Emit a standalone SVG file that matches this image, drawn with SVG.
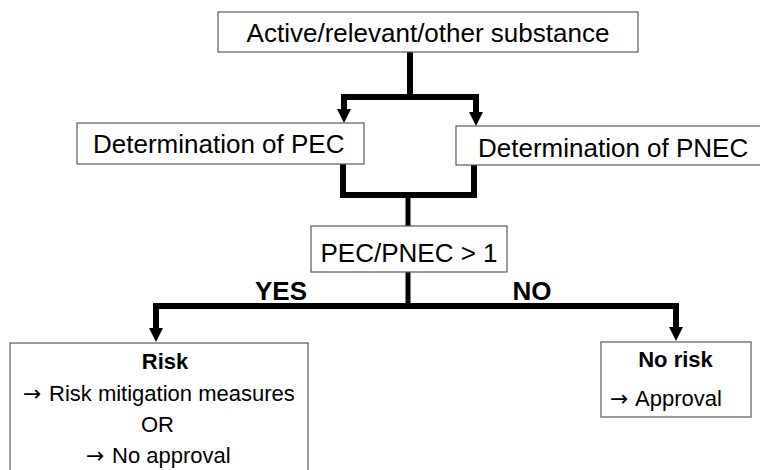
<svg xmlns="http://www.w3.org/2000/svg" width="760" height="470" viewBox="0 0 760 470">
  <style>
    .box { fill: #ffffff; stroke: #5a5a5a; stroke-width: 1.2; }
    .txt { font-family: "Liberation Sans", Arial, sans-serif; font-size: 26px; fill: #000000; }
    .small { font-family: "Liberation Sans", Arial, sans-serif; font-size: 22px; fill: #000000; }
    .bold { font-weight: bold; }
    .arr { font-family: "DejaVu Sans", sans-serif; font-size: 22px; }
    .wire { fill: none; stroke: #000000; stroke-width: 6; stroke-linejoin: miter; stroke-linecap: butt; }
    .thin { stroke-width: 5; }
  </style>

  <rect width="760" height="470" fill="#ffffff"/>

  <!-- connectors: thick black elbows with solid triangular heads -->
  <g id="connectors">
    <line class="wire" x1="410" y1="52" x2="410" y2="98"/>
    <polyline class="wire" points="344,110 344,97 476,97 476,112"/>
    <path d="M337,109 L351,109 L344,123 Z" fill="#000"/>
    <path d="M469,112 L483,112 L476,126 Z" fill="#000"/>

    <polyline class="wire" points="343,164 343,195 474,195 474,165"/>
    <line class="wire thin" x1="408" y1="195" x2="408" y2="227"/>

    <line class="wire thin" x1="408" y1="272" x2="408" y2="306"/>
    <polyline class="wire" points="156,329 156,306 676,306 676,328"/>
    <path d="M149,328 L163,328 L156,342 Z" fill="#000"/>
    <path d="M669,327 L683,327 L676,341 Z" fill="#000"/>

    <text class="txt bold" x="281" y="300" text-anchor="middle" font-size="25">YES</text>
    <text class="txt bold" x="532" y="300" text-anchor="middle" font-size="25">NO</text>
  </g>

  <g id="substance">
    <rect class="box" x="218" y="12" width="420" height="40"/>
    <text class="txt" x="428" y="42" text-anchor="middle">Active/relevant/other substance</text>
  </g>

  <g id="pec">
    <rect class="box" x="77" y="123" width="287" height="41"/>
    <text class="txt" x="93" y="153">Determination of PEC</text>
  </g>

  <g id="pnec">
    <rect class="box" x="456" y="126" width="306" height="39"/>
    <text class="txt" x="478" y="157">Determination of PNEC</text>
  </g>

  <g id="ratio">
    <rect class="box" x="311" y="226" width="196" height="46"/>
    <text class="txt" x="409" y="262" text-anchor="middle">PEC/PNEC &gt; 1</text>
  </g>

  <g id="risk">
    <rect class="box" x="10" y="343" width="298" height="140"/>
    <text class="small bold" x="165" y="369" text-anchor="middle">Risk</text>
    <text class="small" y="401"><tspan class="arr" x="23">→</tspan><tspan x="49">Risk mitigation measures</tspan></text>
    <text class="small" x="157.5" y="432" text-anchor="middle">OR</text>
    <text class="small" y="463"><tspan class="arr" x="86">→</tspan><tspan x="112">No approval</tspan></text>
  </g>

  <g id="norisk">
    <rect class="box" x="601" y="342" width="150" height="75"/>
    <text class="small bold" x="675.5" y="367" text-anchor="middle">No risk</text>
    <text class="small" y="406"><tspan class="arr" x="610">→</tspan><tspan x="635">Approval</tspan></text>
  </g>
</svg>
